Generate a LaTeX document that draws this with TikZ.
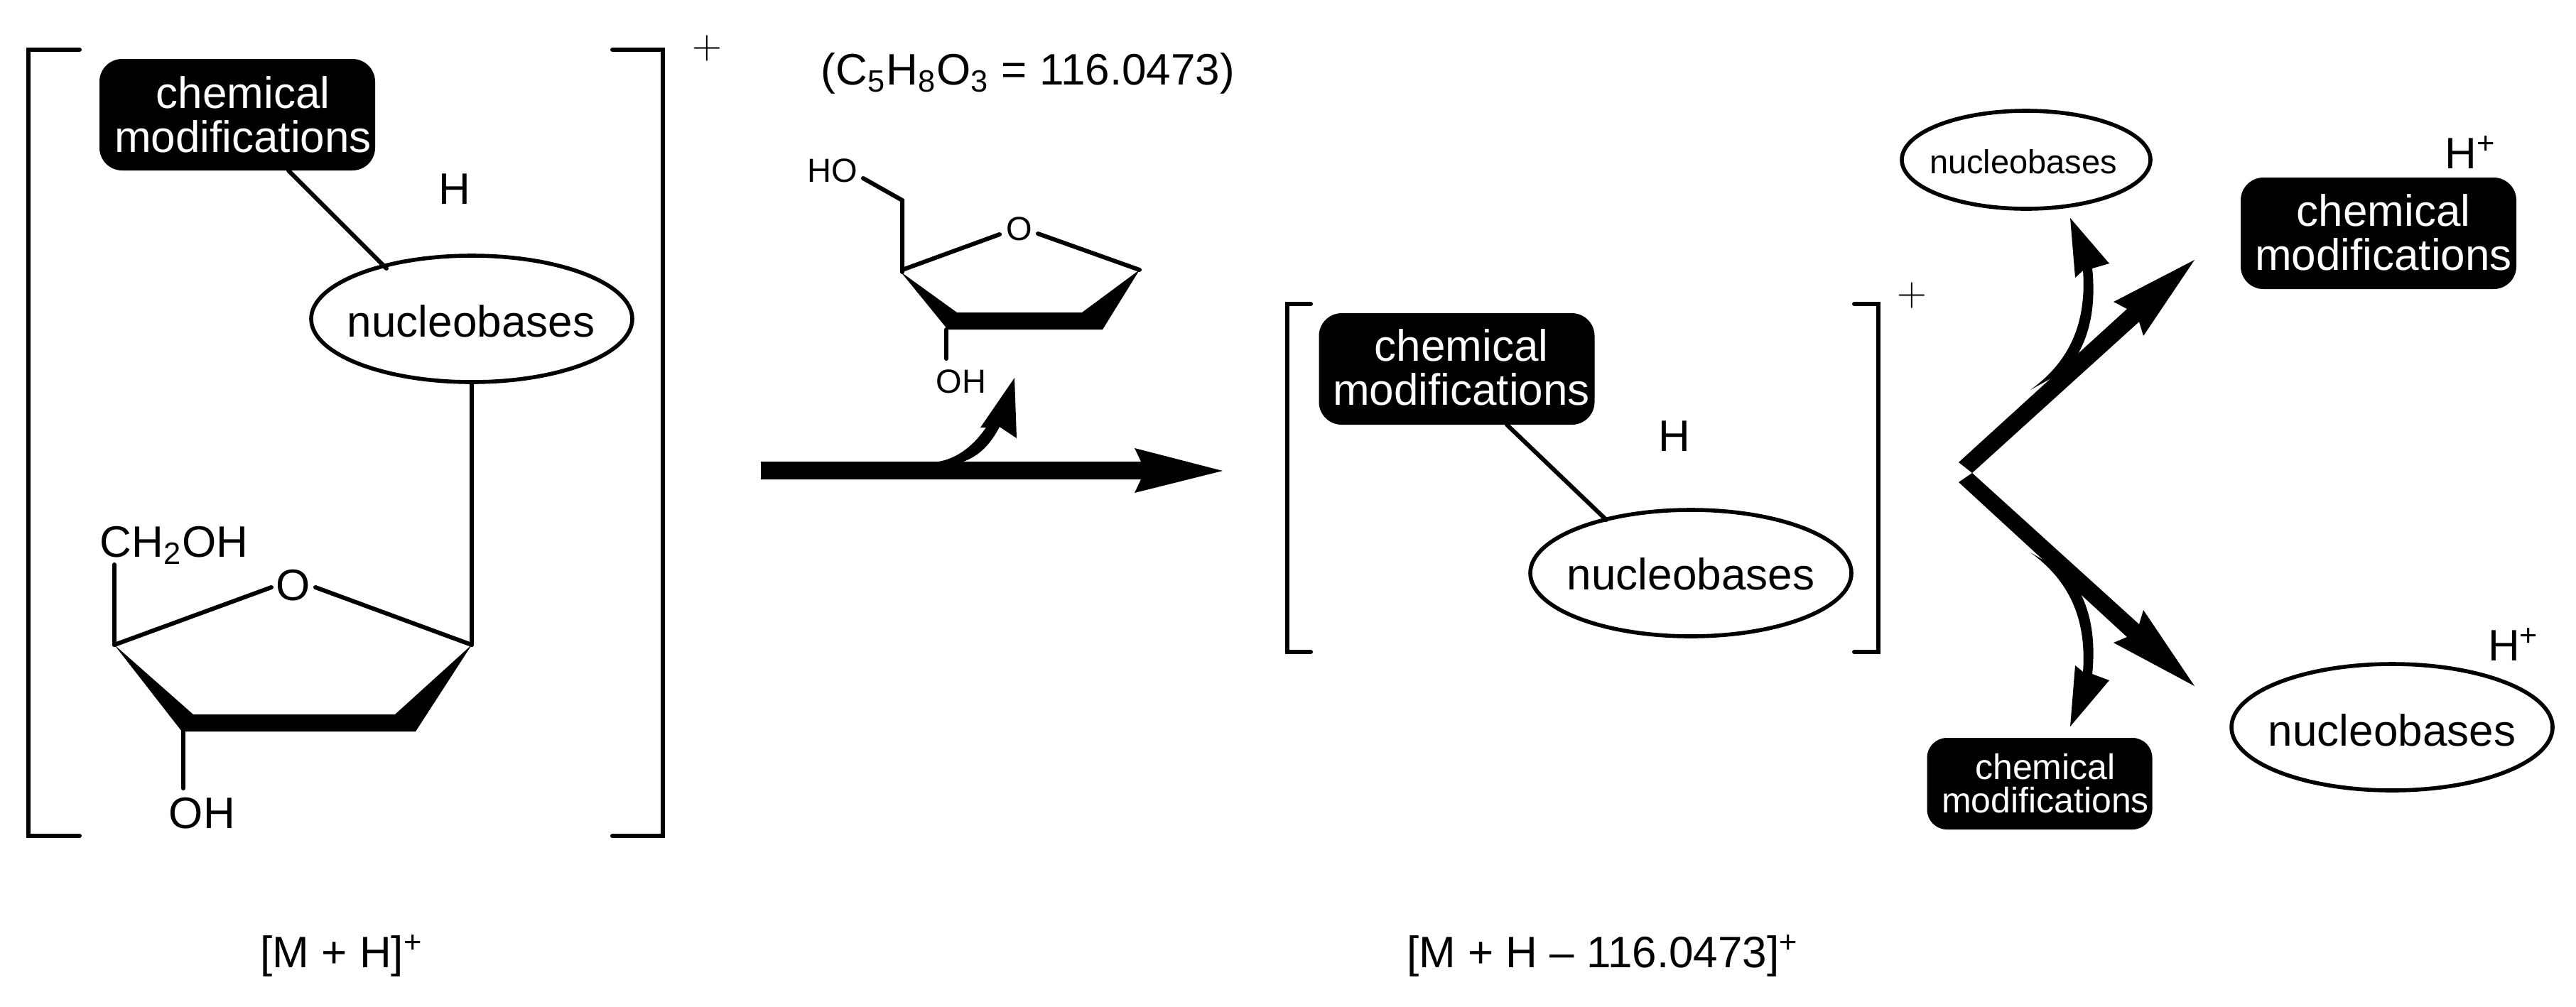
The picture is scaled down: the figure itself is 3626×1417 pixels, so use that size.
\documentclass[tikz,border=0pt]{standalone}
\usepackage{fontspec}
\setmainfont{Liberation Sans}
\newfontfamily\lmfont{Latin Modern Roman}
\usetikzlibrary{shapes.geometric}
\newcommand{\fsz}[1]{\fontsize{#1}{#1}\selectfont}
\tikzset{
  x=0.25pt,y=-0.25pt,
  bond/.style={line width=1.5pt,line cap=round},
  brk/.style={line width=1.5pt,line cap=round,line join=miter},
  solid/.style={fill=black,draw=none},
  big/.style={inner sep=0pt,anchor=base,font=\fsz{15.5}},
  small/.style={inner sep=0pt,anchor=base,font=\fsz{11.75}},
  plusmark/.style={inner sep=0pt,anchor=base,font=\lmfont\fsz{14.5}},
  cmbig/.style={fill=black,rounded corners=8pt,inner sep=0pt,minimum width=97pt,minimum height=39.25pt},
  cmsmall/.style={fill=black,rounded corners=7pt,inner sep=0pt,minimum width=79.25pt,minimum height=32.25pt},
  cmtxtbig/.style={text=white,inner sep=0pt,align=center,font=\fsz{15.5}},
  cmtxtsmall/.style={text=white,inner sep=0pt,align=center,font=\fontsize{12.5}{11.75}\selectfont},
  elbig/.style={ellipse,draw,line width=1.4pt,inner sep=0pt,minimum width=113pt,minimum height=44.5pt},
  elsmall/.style={ellipse,draw,line width=1.4pt,inner sep=0pt,minimum width=87.5pt,minimum height=34.5pt},
}
\begin{document}
\begin{tikzpicture}
\useasboundingbox (0,0) rectangle (3626,1417);
% ---- left bracket
\draw[brk] (112,70) -- (40,70) -- (40,1177) -- (112,1177);
\draw[brk] (862,70) -- (933,70) -- (933,1177) -- (862,1177);
\node[plusmark] (plusA) at (995,82) {+};
% ---- left molecule
\node[cmbig] (cmA) at (334,161.5) {};
\node[cmtxtbig] (cmAt) at (342,161) {chemical\\modifications};
\node[elbig] (nbA) at (664,449) {};
\node[big] (nbAt) at (663,474) {nucleobases};
\node[big] (hA) at (640,287) {H};
\coordinate (a1) at (406,240);
\coordinate (a2) at (544,378);
\draw[bond] (a1) -- (a2);
\coordinate (ra) at (664,908);
\coordinate (la) at (161,908);
\node[big] (oA) at (413,845) {O};
\node[big,anchor=base west] (chA) at (140,784) {CH\textsubscript{2}OH};
\node[big,anchor=base west] (ohA) at (237,1166) {OH};
\draw[bond] (nbA.south) -- (ra);
\draw[bond] (la) -- (161,795);
\draw[bond] (la) -- (382,827);
\draw[bond] (444,827) -- (ra);
\draw[bond] (258,1030) -- (258,1110);
\fill[solid] (la) -- (272,1006) -- (556,1006) -- (ra) -- (585,1030) -- (256,1030) -- cycle;
\node[big] (mh) at (481,1362) {[M + H]\textsuperscript{+}};
% ---- lost sugar
\node[big,anchor=base west] (form) at (1155,119) {(C\textsubscript{5}H\textsubscript{8}O\textsubscript{3} = 116.0473)};
\node[small,anchor=base west] (hoB) at (1136,256) {HO};
\node[small] (oB) at (1435,338) {O};
\node[small,anchor=base west] (ohB) at (1317,553) {OH};
\draw[bond] (1215,251) -- (1270,282) -- (1270,383);
\draw[bond] (1270,380) -- (1407,330);
\draw[bond] (1461,329) -- (1604,380);
\draw[bond] (1332,464) -- (1332,505);
\fill[solid] (1268,383) -- (1347,440) -- (1523,440) -- (1604,380) -- (1552,464) -- (1334,464) -- cycle;
% ---- main arrow
\fill[solid] (1071,650) -- (1606,650) -- (1597,631) -- (1721,663) -- (1597,694) -- (1606,675) -- (1071,675) -- cycle;
\fill[solid] (1321,650) .. controls (1350,645) and (1372,625) .. (1388,602) -- (1380,602) -- (1428,532) -- (1431,617) -- (1407,601) .. controls (1394,626) and (1378,642) .. (1356,650) -- cycle;
% ---- middle bracket
\draw[brk] (1845,428) -- (1811.5,428) -- (1811.5,918) -- (1845,918);
\draw[brk] (2610,428) -- (2644,428) -- (2644,918) -- (2610,918);
\node[plusmark] (plusB) at (2691,430) {+};
\node[cmbig] (cmB) at (2050.5,519.5) {};
\node[cmtxtbig] (cmBt) at (2057,517) {chemical\\modifications};
\node[elbig] (nbB) at (2380,807) {};
\node[big] (nbBt) at (2380,830) {nucleobases};
\node[big] (hB) at (2357,635) {H};
\coordinate (b1) at (2121,598);
\coordinate (b2) at (2261,732);
\draw[bond] (b1) -- (b2);
\node[big] (mhB) at (2256,1362) {[M + H -- 116.0473]\textsuperscript{+}};
% ---- fragments
\node[elsmall] (nbC) at (2852,225) {};
\node[small] (nbCt) at (2848,244) {nucleobases};
\node[cmbig] (cmC) at (3348,328.5) {};
\node[cmtxtbig] (cmCt) at (3355,327) {chemical\\modifications};
\node[big] (hC) at (3478,237) {H\textsuperscript{+}};
\node[elbig] (nbD) at (3367,1024) {};
\node[big] (nbDt) at (3367,1050) {nucleobases};
\node[big] (hD) at (3538,930) {H\textsuperscript{+}};
\node[cmsmall] (cmD) at (2871,1103.5) {};
\node[cmtxtsmall] (cmDt) at (2879,1103) {chemical\\modifications};
% ---- fork arrows
\fill[solid] (2757,651) -- (2994,435) -- (2975,425) -- (3089,366) -- (3017,473) -- (3011,453) -- (2776,666) -- cycle;
\fill[solid] (2757,679) -- (2994,897) -- (2975,905) -- (3089,966) -- (3017,859) -- (3011,879) -- (2776,666) -- cycle;
\fill[solid] (2858,549) .. controls (2905,515) and (2938,465) .. (2932,381) -- (2921,391) -- (2914,307) -- (2969,371) -- (2945,378) .. controls (2952,445) and (2935,490) .. (2910,520) -- cycle;
\fill[solid] (2858,778) .. controls (2905,812) and (2938,862) .. (2932,946) -- (2921,937) -- (2914,1023) -- (2969,958) -- (2945,949) .. controls (2952,882) and (2935,837) .. (2910,808) -- cycle;
\end{tikzpicture}
\end{document}
